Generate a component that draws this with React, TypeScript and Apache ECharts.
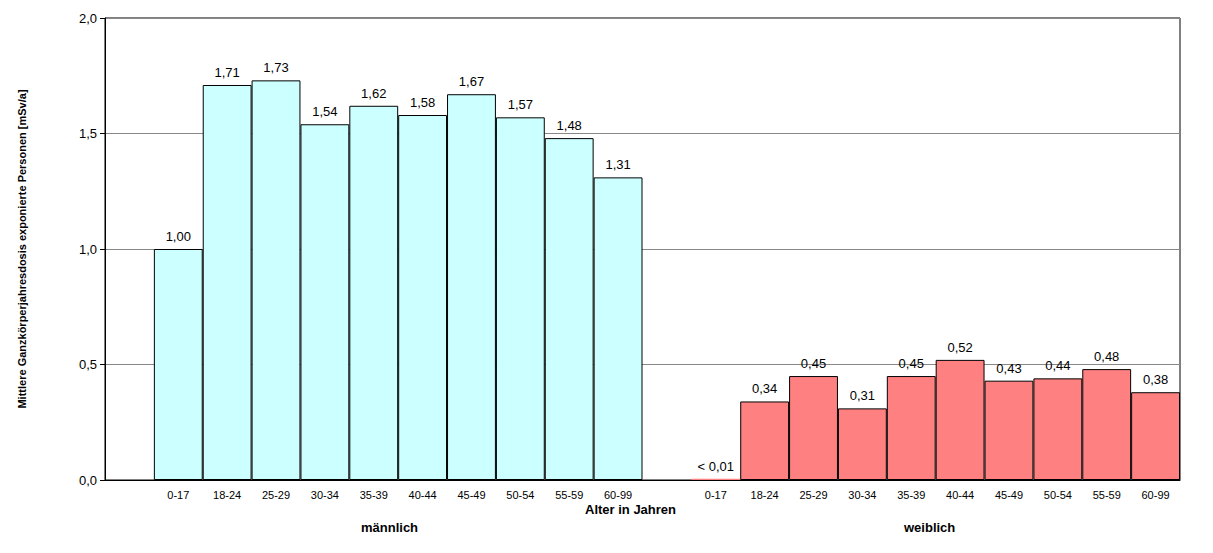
import React, { useEffect, useRef } from "react";
import * as echarts from "echarts";

const ageGroups = ["0-17","18-24","25-29","30-34","35-39","40-44","45-49","50-54","55-59","60-99"];
const maleValues = [1.00,1.71,1.73,1.54,1.62,1.58,1.67,1.57,1.48,1.31];
const femaleValues = [0.005,0.34,0.45,0.31,0.45,0.52,0.43,0.44,0.48,0.38];
const femaleLabels = ["< 0,01","0,34","0,45","0,31","0,45","0,52","0,43","0,44","0,48","0,38"];

export default function App() {
  const ref = useRef<HTMLDivElement>(null);
  useEffect(() => {
    const chart = echarts.init(ref.current!, null, { renderer: "svg" });
    const cats = ["", ...ageGroups, " ", ...ageGroups];
    const data: any[] = [null];
    maleValues.forEach((v) => data.push({ value: v, itemStyle: { color: "#CCFFFF" }, label: { formatter: v.toFixed(2).replace(".", ",") } }));
    data.push(null);
    femaleValues.forEach((v, i) => data.push({ value: v, itemStyle: { color: "#FF8080", borderWidth: i === 0 ? 0 : 1 }, label: { formatter: femaleLabels[i] } }));
    chart.setOption({
      animation: false,
      textStyle: { fontFamily: "Liberation Sans, Arial, sans-serif" },
      grid: { left: 92, right: 25, top: 10, bottom: 65, show: true, borderColor: "#000", borderWidth: 1 },
      xAxis: {
        type: "category",
        data: cats,
        axisTick: { show: false },
        axisLine: { lineStyle: { color: "#000" } },
        axisLabel: { color: "#000", fontSize: 11, interval: 0, margin: 9 },
      },
      yAxis: {
        type: "value",
        min: 0,
        max: 2,
        interval: 0.5,
        axisLine: { show: true, lineStyle: { color: "#000" } },
        axisTick: { show: true, length: 5, lineStyle: { color: "#000" } },
        splitLine: { lineStyle: { color: "#888" } },
        axisLabel: { color: "#000", fontSize: 13, formatter: (v: number) => v.toFixed(1).replace(".", ",") },
        name: "Mittlere Ganzkörperjahresdosis exponierte Personen [mSv/a]",
        nameLocation: "middle",
        nameGap: 78,
        nameTextStyle: { fontSize: 11, fontWeight: "bold", color: "#000" },
      },
      series: [{
        type: "bar",
        data,
        barWidth: "100%",
        itemStyle: { borderColor: "#000", borderWidth: 1 },
        label: { show: true, position: "top", color: "#000", fontSize: 13, distance: 6 },
      }],
      graphic: [
        { type: "text", left: 577, top: 495, style: { text: "Alter in Jahren", font: "bold 13px Liberation Sans, Arial", fill: "#000" } },
        { type: "text", left: 353, top: 513, style: { text: "männlich", font: "bold 13px Liberation Sans, Arial", fill: "#000" } },
        { type: "text", left: 896, top: 513, style: { text: "weiblich", font: "bold 13px Liberation Sans, Arial", fill: "#000" } },
      ],
    });
    return () => chart.dispose();
  }, []);
  return <div ref={ref} style={{ width: 1197, height: 537 }} />;
}
